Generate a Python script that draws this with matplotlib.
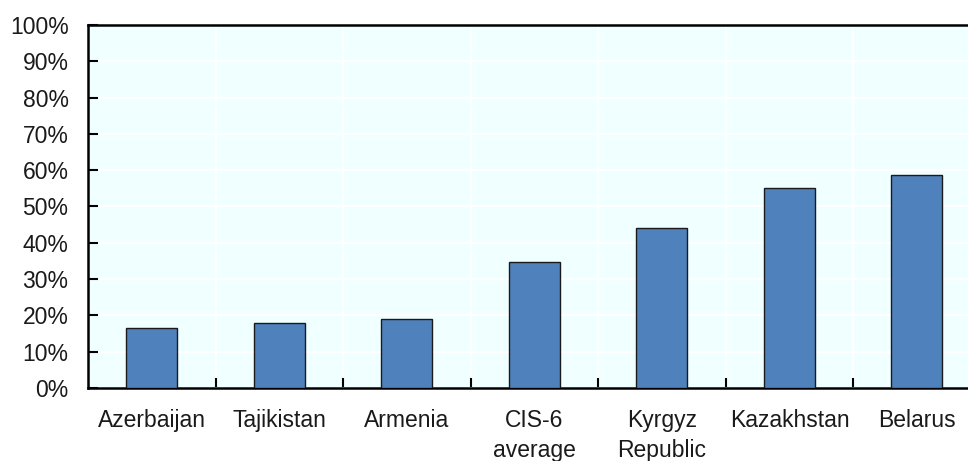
import numpy as np
import matplotlib.pyplot as plt
from matplotlib.ticker import FuncFormatter, MultipleLocator

countries = ['Azerbaijan', 'Tajikistan', 'Armenia', 'CIS-6\naverage',
             'Kyrgyz\nRepublic', 'Kazakhstan', 'Belarus']
shares = [16.4, 17.8, 18.9, 34.7, 44.0, 55.2, 58.8]

plt.rcParams['font.family'] = ['Liberation Sans', 'DejaVu Sans']
plt.rcParams['font.size'] = 16.5

fig = plt.figure(figsize=(9.68, 4.61), dpi=100)
ax = fig.add_axes([0.0909, 0.1584, 0.9091, 0.7874])
ax.set_facecolor('#F0FFFF')

x = np.arange(len(countries))
ax.bar(x, shares, width=0.4, color='#4F81BD', edgecolor='#1a1a1a',
       linewidth=1.0, zorder=3)

ax.set_xlim(-0.5, 6.4)
ax.set_ylim(0, 100)
ax.yaxis.set_major_locator(MultipleLocator(10))
ax.yaxis.set_major_formatter(FuncFormatter(lambda v, p: '%d%%' % v))

ax.set_xticks(x)
ax.set_xticklabels(countries, linespacing=1.4)
ax.set_xticks(np.arange(0.5, 6.5, 1.0), minor=True)

ax.grid(True, axis='y', which='major', color='white', linewidth=1.5, zorder=0)
ax.grid(True, axis='x', which='minor', color='white', linewidth=1.5, zorder=0)

ax.tick_params(axis='x', which='major', length=0, pad=15, colors='#1a1a1a')
ax.tick_params(axis='x', which='minor', direction='in', length=7, width=1.5)
ax.tick_params(axis='y', direction='in', length=7, width=1.5, pad=14,
               labelcolor='#1a1a1a')

for s in ['left', 'bottom', 'top']:
    ax.spines[s].set_linewidth(1.8)
ax.spines['right'].set_visible(False)

fig.savefig('out.png', dpi=100)
